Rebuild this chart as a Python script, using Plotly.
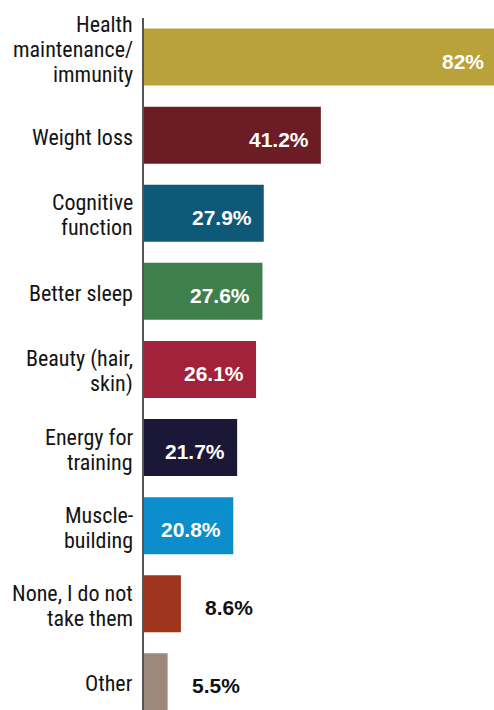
import plotly.graph_objects as go

categories = [
    "Health<br>maintenance/<br>immunity",
    "Weight loss",
    "Cognitive<br>function",
    "Better sleep",
    "Beauty (hair,<br>skin)",
    "Energy for<br>training",
    "Muscle-<br>building",
    "None, I do not<br>take them",
    "Other",
]
values = [82, 41.2, 27.9, 27.6, 26.1, 21.7, 20.8, 8.6, 5.5]
value_labels = ["82%", "41.2%", "27.9%", "27.6%", "26.1%", "21.7%", "20.8%", "8.6%", "5.5%"]
colors = ["#B9A23A", "#6B1C24", "#0E5878", "#3F7F4B", "#A3223B",
          "#1B1736", "#0C8ECD", "#9F351D", "#9D887B"]

LABEL_FONT = "Roboto Condensed, DejaVu Sans Condensed, sans-serif"
VALUE_FONT = "Liberation Sans, Arial, sans-serif"

fig = go.Figure()
fig.add_trace(go.Bar(
    y=categories,
    x=values,
    orientation="h",
    marker=dict(color=colors, line=dict(width=0)),
    width=0.73,
    hoverinfo="skip",
))

annotations = []
# category labels, one annotation per line for tight line spacing
for cat in categories:
    lines = cat.split("<br>")
    n = len(lines)
    extra = 10 if n >= 3 else 0
    for i, line in enumerate(lines):
        annotations.append(dict(
            xref="paper", yref="y", x=0, y=cat,
            text=line, showarrow=False,
            xanchor="right", yanchor="middle", xshift=-9,
            yshift=((n - 1) / 2 - i) * 25 - 2 + extra,
            font=dict(family=LABEL_FONT, size=22, color="#141414"),
        ))

# value labels
for cat, v, lab in zip(categories, values, value_labels):
    inside = v >= 15
    annotations.append(dict(
        xref="x", yref="y", x=v, y=cat,
        text="<b>" + lab + "</b>", showarrow=False,
        xanchor="right" if inside else "left",
        yanchor="middle",
        xshift=-10 if inside else 22,
        yshift=-4,
        font=dict(family=VALUE_FONT, size=21,
                  color="#ffffff" if inside else "#111111"),
    ))

fig.update_layout(
    width=496, height=710,
    margin=dict(l=144, r=0, t=18, b=0, pad=0),
    paper_bgcolor="white", plot_bgcolor="white",
    showlegend=False,
    annotations=annotations,
    xaxis=dict(range=[0, 82], visible=False, fixedrange=True),
    yaxis=dict(
        type="category",
        range=[8.36, -0.5],
        showticklabels=False, ticks="",
        showgrid=False, zeroline=False,
        showline=True, linecolor="#555555", linewidth=1.5,
        fixedrange=True,
    ),
)

fig.write_html(
    "out.html",
    config={"displayModeBar": False},
    post_script="document.body.style.margin='0';document.body.style.overflow='hidden';",
)
